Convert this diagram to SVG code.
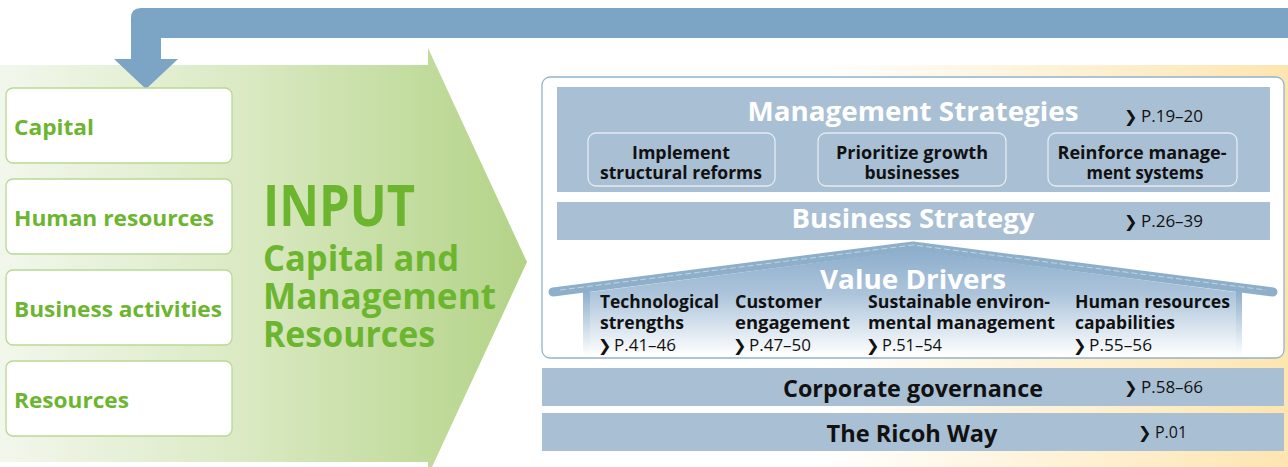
<svg xmlns="http://www.w3.org/2000/svg" width="1288" height="467" viewBox="0 0 1288 467">
<defs>
<linearGradient id="greenGrad" gradientUnits="userSpaceOnUse" x1="0" y1="0" x2="527" y2="0">
<stop offset="0" stop-color="#f2f7ec"/>
<stop offset="0.45" stop-color="#dbeac4"/>
<stop offset="1" stop-color="#b3d387"/>
</linearGradient>
<linearGradient id="creamGrad" gradientUnits="userSpaceOnUse" x1="820" y1="0" x2="1288" y2="0">
<stop offset="0" stop-color="#ffffff"/>
<stop offset="1" stop-color="#fde5b0"/>
</linearGradient>
<linearGradient id="houseGrad" gradientUnits="userSpaceOnUse" x1="0" y1="245" x2="0" y2="356">
<stop offset="0" stop-color="#8aaccb"/>
<stop offset="0.45" stop-color="#adc5db"/>
<stop offset="1" stop-color="#ffffff"/>
</linearGradient>
<linearGradient id="wallGrad" gradientUnits="userSpaceOnUse" x1="0" y1="292" x2="0" y2="356">
<stop offset="0" stop-color="#8eafcb"/>
<stop offset="1" stop-color="#ffffff"/>
</linearGradient>
<style>
.inbox{fill:#ffffff;stroke:#b9d992;stroke-width:1.3}
.intext{font-family:"Open Sans","Noto Sans",sans-serif;font-weight:bold;font-size:22px;fill:#6cb52f}
.big{font-family:"Open Sans","Noto Sans",sans-serif;font-weight:bold;fill:#6cb52f}
.band{fill:#a9bfd4}
.title{font-family:"Open Sans","Noto Sans",sans-serif;font-weight:bold;font-size:27px;fill:#ffffff;text-anchor:middle}
.sub{fill:none;stroke:#e4ecf3;stroke-width:1.3}
.subtext{font-family:"Open Sans","Noto Sans",sans-serif;font-weight:bold;font-size:18px;fill:#111111;text-anchor:middle}
.col{font-family:"Open Sans","Noto Sans",sans-serif;font-weight:bold;font-size:18px;fill:#111111}
.ref{font-family:"Open Sans","Noto Sans",sans-serif;font-size:17px;fill:#111111}
.chev{font-family:"DejaVu Sans",sans-serif;font-weight:bold;font-size:16px;fill:#111111}
.dark{font-family:"Open Sans","Noto Sans",sans-serif;font-weight:bold;font-size:23px;fill:#111111;text-anchor:middle}
</style>
</defs>

<!-- backgrounds -->
<rect x="540" y="65" width="748" height="402" fill="url(#creamGrad)"/>
<path d="M0,65 L428,65 L428,48 L527,262 L432,467 L428,467 L428,462 L0,462 Z" fill="url(#greenGrad)"/>

<!-- connector: feedback arrow -->
<g id="connectors">
<path d="M1288,8 L141,8 Q131,8 131,18 L131,59 L114,59 L146,89 L178,59 L161,59 L161,38 L1288,38 Z" fill="#7ba4c5"/>
</g>

<!-- input nodes -->
<g id="input-capital">
<rect class="inbox" x="6" y="88" width="226" height="75" rx="7"/>
<text class="intext" x="14" y="135" textLength="80" lengthAdjust="spacingAndGlyphs">Capital</text>
</g>
<g id="input-human">
<rect class="inbox" x="6" y="179" width="226" height="75" rx="7"/>
<text class="intext" x="14" y="226" textLength="200" lengthAdjust="spacingAndGlyphs">Human resources</text>
</g>
<g id="input-business">
<rect class="inbox" x="6" y="270" width="226" height="75" rx="7"/>
<text class="intext" x="14" y="317" textLength="208" lengthAdjust="spacingAndGlyphs">Business activities</text>
</g>
<g id="input-resources">
<rect class="inbox" x="6" y="361" width="226" height="75" rx="7"/>
<text class="intext" x="14" y="408" textLength="115" lengthAdjust="spacingAndGlyphs">Resources</text>
</g>

<g id="input-title">
<text class="big" x="263" y="226" font-size="58" textLength="152" lengthAdjust="spacingAndGlyphs">INPUT</text>
<text class="big" x="263" y="271" font-size="35" textLength="196" lengthAdjust="spacingAndGlyphs">Capital and</text>
<text class="big" x="263" y="309" font-size="35" textLength="233" lengthAdjust="spacingAndGlyphs">Management</text>
<text class="big" x="263" y="347" font-size="35" textLength="172" lengthAdjust="spacingAndGlyphs">Resources</text>
</g>

<!-- panel -->
<g id="panel">
<rect x="542" y="77" width="742" height="281" rx="8" fill="#ffffff" stroke="#93b3cd" stroke-width="1.3"/>
</g>

<g id="management-strategies">
<rect class="band" x="557" y="87" width="713" height="105"/>
<text class="title" x="913" y="121" textLength="331" lengthAdjust="spacingAndGlyphs">Management Strategies</text>
<text class="chev" x="1124" y="122">❯</text>
<text class="ref" x="1141" y="122" textLength="62" lengthAdjust="spacingAndGlyphs">P.19–20</text>
</g>
<g id="ms-structural">
<rect class="sub" x="588" y="133" width="187" height="53" rx="8"/>
<text class="subtext" x="681" y="159" textLength="98" lengthAdjust="spacingAndGlyphs">Implement</text>
<text class="subtext" x="681" y="179" textLength="162" lengthAdjust="spacingAndGlyphs">structural reforms</text>
</g>
<g id="ms-growth">
<rect class="sub" x="818" y="133" width="188" height="53" rx="8"/>
<text class="subtext" x="912" y="159" textLength="152" lengthAdjust="spacingAndGlyphs">Prioritize growth</text>
<text class="subtext" x="912" y="179" textLength="95" lengthAdjust="spacingAndGlyphs">businesses</text>
</g>
<g id="ms-systems">
<rect class="sub" x="1048" y="133" width="189" height="53" rx="8"/>
<text class="subtext" x="1142" y="159" textLength="169" lengthAdjust="spacingAndGlyphs">Reinforce manage-</text>
<text class="subtext" x="1145" y="179" textLength="117" lengthAdjust="spacingAndGlyphs">ment systems</text>
</g>

<g id="business-strategy">
<rect class="band" x="557" y="202" width="713" height="38"/>
<text class="title" x="913" y="228" textLength="243" lengthAdjust="spacingAndGlyphs">Business Strategy</text>
<text class="chev" x="1124" y="227">❯</text>
<text class="ref" x="1141" y="227" textLength="62" lengthAdjust="spacingAndGlyphs">P.26–39</text>
</g>

<g id="value-drivers">
<path d="M583,293 L913,250 L1242,293 L1242,356 L583,356 Z" fill="url(#houseGrad)"/>
<rect x="583" y="292" width="7" height="64" fill="url(#wallGrad)"/>
<rect x="1236" y="292" width="6" height="64" fill="url(#wallGrad)"/>
<path d="M553,292 L913,246 L1273,292" fill="none" stroke="#8eafca" stroke-width="9" stroke-linecap="round" stroke-linejoin="round"/>
<path d="M560,290 L913,245 L1266,290" fill="none" stroke="#ffffff" stroke-opacity="0.45" stroke-width="1" stroke-dasharray="6 3"/>
<text class="title" x="913" y="289" textLength="186" lengthAdjust="spacingAndGlyphs">Value Drivers</text>
</g>
<g id="vd-tech">
<text class="col" x="600" y="308" textLength="119" lengthAdjust="spacingAndGlyphs">Technological</text>
<text class="col" x="600" y="329" textLength="84" lengthAdjust="spacingAndGlyphs">strengths</text>
<text class="chev" x="598" y="351">❯</text>
<text class="ref" x="614" y="351" textLength="62" lengthAdjust="spacingAndGlyphs">P.41–46</text>
</g>
<g id="vd-customer">
<text class="col" x="735" y="308" textLength="87" lengthAdjust="spacingAndGlyphs">Customer</text>
<text class="col" x="735" y="329" textLength="115" lengthAdjust="spacingAndGlyphs">engagement</text>
<text class="chev" x="733" y="351">❯</text>
<text class="ref" x="749" y="351" textLength="62" lengthAdjust="spacingAndGlyphs">P.47–50</text>
</g>
<g id="vd-environment">
<text class="col" x="868" y="308" textLength="182" lengthAdjust="spacingAndGlyphs">Sustainable environ-</text>
<text class="col" x="868" y="329" textLength="187" lengthAdjust="spacingAndGlyphs">mental management</text>
<text class="chev" x="866" y="351">❯</text>
<text class="ref" x="882" y="351" textLength="60" lengthAdjust="spacingAndGlyphs">P.51–54</text>
</g>
<g id="vd-human">
<text class="col" x="1075" y="308" textLength="155" lengthAdjust="spacingAndGlyphs">Human resources</text>
<text class="col" x="1075" y="329" textLength="100" lengthAdjust="spacingAndGlyphs">capabilities</text>
<text class="chev" x="1073" y="351">❯</text>
<text class="ref" x="1089" y="351" textLength="63" lengthAdjust="spacingAndGlyphs">P.55–56</text>
</g>

<g id="corporate-governance">
<rect class="band" x="542" y="368" width="742" height="38"/>
<text class="dark" x="913" y="397" textLength="260" lengthAdjust="spacingAndGlyphs">Corporate governance</text>
<text class="chev" x="1124" y="393">❯</text>
<text class="ref" x="1141" y="393" textLength="62" lengthAdjust="spacingAndGlyphs">P.58–66</text>
</g>
<g id="ricoh-way">
<rect class="band" x="542" y="413" width="742" height="38"/>
<text class="dark" x="912" y="442" textLength="171" lengthAdjust="spacingAndGlyphs">The Ricoh Way</text>
<text class="chev" x="1138" y="438">❯</text>
<text class="ref" x="1155" y="438" textLength="32" lengthAdjust="spacingAndGlyphs">P.01</text>
</g>
</svg>
